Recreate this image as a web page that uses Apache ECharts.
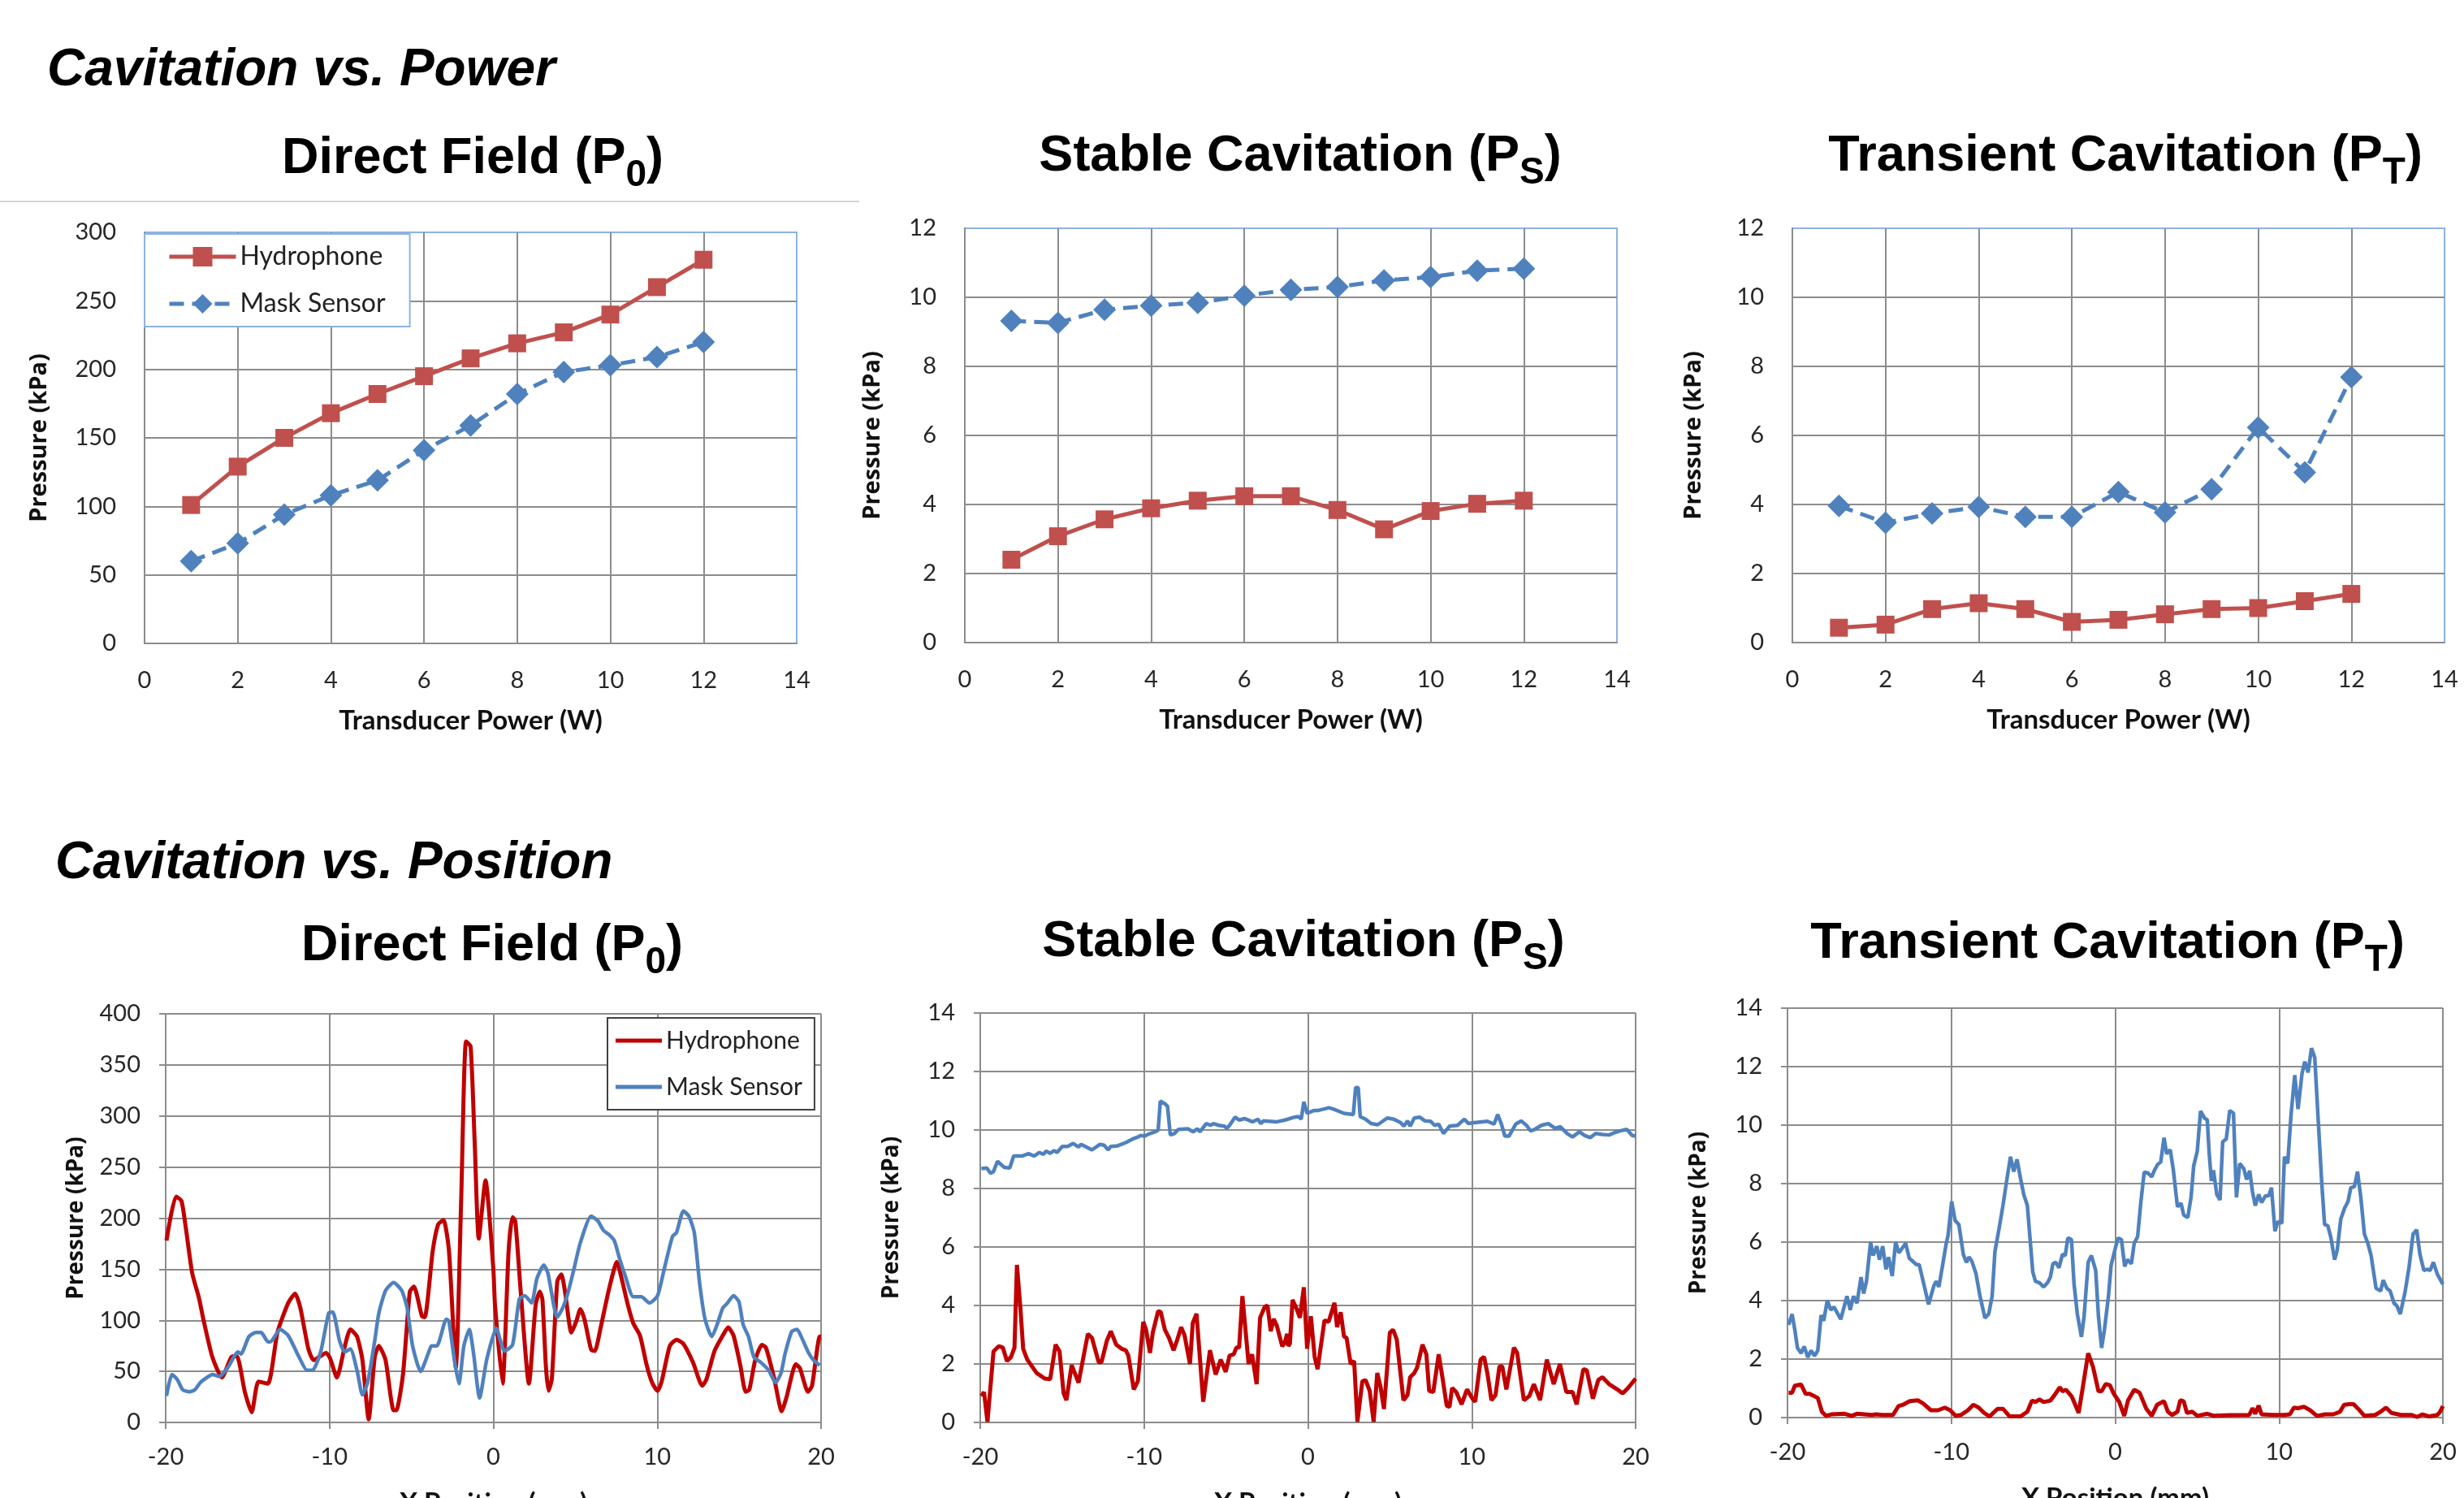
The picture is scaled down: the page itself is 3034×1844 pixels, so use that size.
<!DOCTYPE html>
<html lang="en">
<head>
<meta charset="UTF-8">
<title>Cavitation vs. Power / Position</title>
<script src="https://cdn.jsdelivr.net/npm/echarts@6/dist/echarts.min.js"></script>
<style>
  html, body { margin: 0; padding: 0; background: #fff; }
  #main { width: 3034px; height: 1844px; }
</style>
</head>
<body>
<div id="main"></div>
<script>
// ---- top row: pressure vs transducer power (W) ----
var powerW  = [1, 2, 3, 4, 5, 6, 7, 8, 9, 10, 11, 12];
var p0Hydro = [101, 129, 150, 168, 182, 195, 208, 219, 227, 240, 260, 280];
var p0Mask  = [60, 73, 94, 108, 119, 141, 159, 182, 198, 203, 209, 220];
var psHydro = [2.40, 3.08, 3.57, 3.89, 4.11, 4.24, 4.24, 3.84, 3.28, 3.81, 4.02, 4.11];
var psMask  = [9.32, 9.26, 9.64, 9.76, 9.84, 10.05, 10.22, 10.30, 10.49, 10.59, 10.77, 10.83];
var ptHydro = [0.43, 0.52, 0.97, 1.14, 0.97, 0.60, 0.66, 0.82, 0.97, 1.00, 1.20, 1.41];
var ptMask  = [3.96, 3.47, 3.74, 3.93, 3.64, 3.64, 4.36, 3.77, 4.44, 6.23, 4.93, 7.69];

// ---- bottom row: pressure vs x position (mm), [x, kPa] ----
var posP0Hydro = [[-19.95,178],[-19.37,221],[-19.04,217],[-18.8,194],[-18.38,146],[-17.97,122],[-17.7,101],[-17.15,64],[-16.57,44],[-15.99,64],[-15.66,65],[-15.17,30],[-14.75,10],[-14.34,40],[-13.76,38],[-13.18,88],[-12.52,117],[-12.1,126],[-11.78,112],[-11.29,72],[-10.96,61],[-10.21,68],[-9.97,63],[-9.55,44],[-9.06,75],[-8.73,91],[-8.32,84],[-7.99,61],[-7.61,3],[-7.24,64],[-6.99,75],[-6.58,61],[-6.09,12],[-5.92,12],[-5.51,48],[-5.1,128],[-4.85,133],[-4.36,104],[-4.19,103],[-3.7,168],[-3.37,194],[-3.04,198],[-2.71,168],[-2.29,54],[-1.96,221],[-1.67,373],[-1.39,368],[-1.14,274],[-0.89,180],[-0.48,237],[0.0,150],[0.1,115],[0.56,38],[0.93,168],[1.17,201],[1.34,197],[1.67,128],[2.17,38],[2.58,115],[2.83,128],[2.99,121],[3.21,54],[3.37,31],[3.57,43],[3.9,138],[4.15,145],[4.4,125],[4.76,88],[5.06,99],[5.31,111],[5.56,101],[5.97,71],[6.19,70],[6.55,93],[7.05,130],[7.54,157],[7.87,138],[8.21,115],[8.54,97],[8.95,85],[9.36,56],[9.69,39],[10.02,31],[10.27,40],[10.77,75],[11.18,81],[11.6,77],[12.18,59],[12.75,36],[13.0,42],[13.5,70],[14.0,85],[14.33,93],[14.66,85],[15.07,56],[15.4,30],[15.62,32],[15.98,61],[16.39,76],[16.64,73],[17.14,43],[17.6,11],[17.88,24],[18.46,57],[18.71,53],[19.2,30],[19.45,36],[19.92,84],[20.0,84]];
var posP0Mask = [[-19.95,26],[-19.62,47],[-19.29,42],[-18.96,32],[-18.55,30],[-18.22,32],[-17.89,39],[-17.48,44],[-17.15,47],[-16.73,45],[-16.24,53],[-15.58,69],[-15.41,67],[-14.92,84],[-14.5,88],[-14.17,88],[-13.76,79],[-13.6,79],[-13.02,91],[-12.52,85],[-11.86,64],[-11.37,51],[-11.04,51],[-10.54,69],[-10.05,107],[-9.8,108],[-9.39,80],[-9.06,69],[-8.73,72],[-8.32,51],[-7.99,27],[-7.66,40],[-7.24,80],[-6.99,107],[-6.58,129],[-6.09,137],[-5.59,129],[-5.26,112],[-4.93,75],[-4.44,50],[-3.94,69],[-3.78,75],[-3.45,75],[-2.87,101],[-2.71,99],[-2.38,61],[-2.1,38],[-1.8,75],[-1.47,91],[-1.22,69],[-0.84,24],[-0.4,62],[0.18,92],[0.68,70],[1.17,76],[1.59,121],[1.92,124],[2.33,117],[2.66,141],[3.08,154],[3.33,146],[3.9,103],[4.23,112],[4.57,128],[4.9,149],[5.31,176],[5.97,202],[6.39,197],[6.72,188],[7.05,184],[7.38,178],[7.71,160],[8.04,144],[8.54,123],[9.03,123],[9.53,117],[10.02,124],[10.44,151],[10.93,182],[11.18,186],[11.6,207],[11.93,202],[12.26,186],[12.59,136],[12.92,101],[13.33,84],[13.66,96],[14.0,112],[14.24,116],[14.66,124],[14.99,118],[15.24,96],[15.57,84],[15.9,64],[16.31,59],[16.81,51],[17.22,39],[17.55,48],[17.8,67],[18.21,89],[18.54,91],[18.79,84],[19.21,69],[19.54,61],[19.92,56]];
var posPsHydro = [[-19.93,0.9],[-19.77,1.04],[-19.56,0.02],[-19.19,2.43],[-18.86,2.61],[-18.62,2.56],[-18.37,2.1],[-18.12,2.24],[-17.91,2.56],[-17.76,5.39],[-17.55,3.91],[-17.38,2.52],[-17.13,2.15],[-16.56,1.69],[-16.06,1.5],[-15.73,1.48],[-15.4,2.66],[-15.16,2.43],[-14.91,0.99],[-14.74,0.76],[-14.42,1.96],[-14.0,1.36],[-13.67,2.33],[-13.43,3.03],[-13.18,2.89],[-12.77,2.06],[-12.6,2.06],[-12.27,2.8],[-12.03,3.12],[-11.7,2.66],[-11.37,2.52],[-11.12,2.47],[-10.96,2.29],[-10.63,1.13],[-10.38,1.41],[-10.05,3.44],[-9.88,3.17],[-9.64,2.38],[-9.47,3.07],[-9.14,3.81],[-8.98,3.77],[-8.73,3.17],[-8.48,2.89],[-8.2,2.47],[-7.99,2.8],[-7.74,3.26],[-7.53,2.98],[-7.2,2.0],[-7.03,3.4],[-6.8,3.72],[-6.39,0.71],[-5.98,2.47],[-5.63,1.64],[-5.32,2.15],[-5.02,1.73],[-4.78,2.29],[-4.53,2.33],[-4.37,2.56],[-4.2,2.56],[-4.0,4.32],[-3.62,2.0],[-3.41,2.33],[-3.13,1.31],[-2.92,3.58],[-2.64,3.95],[-2.47,4.0],[-2.27,3.12],[-2.09,3.54],[-1.9,3.31],[-1.57,2.61],[-1.43,2.7],[-1.27,3.03],[-1.19,2.61],[-1.1,2.7],[-0.94,4.19],[-0.71,3.91],[-0.49,3.58],[-0.25,4.62],[-0.05,2.52],[0.18,3.63],[0.41,2.24],[0.59,1.82],[1.01,3.49],[1.26,3.44],[1.62,4.09],[1.78,3.26],[2.0,3.77],[2.2,2.94],[2.36,2.89],[2.61,2.0],[2.82,2.1],[3.02,0.02],[3.32,1.41],[3.52,1.45],[3.77,1.08],[4.01,0.02],[4.23,1.69],[4.43,1.22],[4.64,0.46],[5.0,3.07],[5.2,3.17],[5.42,2.84],[5.83,0.76],[6.08,0.94],[6.24,1.55],[6.49,1.69],[6.66,1.87],[6.99,2.66],[7.23,2.33],[7.4,1.08],[7.65,1.04],[7.98,2.33],[8.22,1.5],[8.47,0.57],[8.64,0.53],[8.8,1.18],[9.05,1.04],[9.38,0.62],[9.71,1.13],[10.04,0.81],[10.21,0.71],[10.54,2.15],[10.75,2.24],[10.95,1.69],[11.2,0.76],[11.45,0.94],[11.69,1.92],[11.86,1.92],[12.11,1.13],[12.57,2.56],[12.77,2.38],[13.18,0.76],[13.51,0.9],[13.79,1.31],[14.17,0.76],[14.58,2.15],[15.0,1.31],[15.38,2.0],[15.77,1.04],[16.15,1.04],[16.4,0.62],[16.81,1.82],[17.02,1.78],[17.39,0.81],[17.72,1.45],[17.97,1.55],[18.38,1.31],[18.88,1.13],[19.21,0.99],[19.54,1.18],[20.0,1.5]];
var posPsMask = [[-19.93,8.68],[-19.6,8.7],[-19.36,8.52],[-19.19,8.58],[-18.95,8.93],[-18.53,8.72],[-18.2,8.7],[-17.96,9.11],[-17.46,9.11],[-17.05,9.19],[-16.72,9.11],[-16.39,9.23],[-16.14,9.17],[-15.98,9.28],[-15.73,9.2],[-15.49,9.3],[-15.32,9.23],[-14.99,9.44],[-14.66,9.44],[-14.33,9.54],[-14.0,9.42],[-13.84,9.51],[-13.18,9.32],[-12.69,9.51],[-12.44,9.48],[-12.19,9.32],[-12.03,9.44],[-11.61,9.46],[-11.12,9.57],[-10.71,9.69],[-10.38,9.76],[-10.21,9.81],[-9.97,9.79],[-9.64,9.88],[-9.31,9.94],[-9.14,10.0],[-9.01,10.99],[-8.73,10.9],[-8.57,10.81],[-8.4,9.83],[-8.15,9.88],[-7.91,10.02],[-7.33,10.04],[-7.0,9.94],[-6.75,10.04],[-6.59,9.94],[-6.21,10.22],[-5.93,10.16],[-5.77,10.22],[-5.44,10.16],[-5.11,10.13],[-4.94,10.06],[-4.78,10.16],[-4.45,10.44],[-4.2,10.34],[-3.87,10.39],[-3.38,10.28],[-3.05,10.37],[-2.88,10.22],[-2.72,10.31],[-1.9,10.28],[-1.4,10.34],[-0.82,10.44],[-0.58,10.46],[-0.41,10.37],[-0.25,10.96],[-0.05,10.57],[0.38,10.67],[0.63,10.67],[1.29,10.76],[1.54,10.72],[2.2,10.57],[2.77,10.53],[2.91,11.45],[3.07,11.45],[3.19,10.46],[3.52,10.37],[3.85,10.22],[4.26,10.18],[4.84,10.41],[5.25,10.37],[5.66,10.25],[5.86,10.13],[6.08,10.31],[6.24,10.13],[6.49,10.41],[6.82,10.44],[7.15,10.31],[7.48,10.3],[7.73,10.16],[7.98,10.2],[8.27,9.88],[8.64,10.13],[9.13,10.16],[9.55,10.37],[9.79,10.22],[10.12,10.25],[10.62,10.28],[10.95,10.3],[11.36,10.2],[11.58,10.53],[11.81,10.2],[12.02,9.79],[12.27,9.79],[12.68,10.2],[13.01,10.31],[13.34,10.16],[13.59,9.97],[13.84,10.02],[14.25,10.16],[14.67,10.22],[15.08,10.06],[15.41,10.11],[15.82,9.88],[16.15,9.76],[16.56,9.94],[16.9,9.81],[17.23,9.74],[17.56,9.88],[17.97,9.85],[18.38,9.83],[18.71,9.91],[19.04,9.97],[19.46,10.02],[19.79,9.81],[20.0,9.79]];
var posPtHydro = [[-19.93,0.85],[-19.72,0.85],[-19.55,1.09],[-19.17,1.13],[-18.89,0.81],[-18.65,0.81],[-18.15,0.67],[-17.9,0.2],[-17.66,0.06],[-17.33,0.11],[-16.5,0.13],[-16.09,0.06],[-15.76,0.13],[-14.85,0.09],[-14.6,0.11],[-14.19,0.09],[-13.56,0.09],[-13.23,0.39],[-12.95,0.44],[-12.54,0.56],[-12.05,0.59],[-11.72,0.48],[-11.25,0.25],[-10.81,0.25],[-10.4,0.34],[-10.07,0.25],[-9.74,0.06],[-9.41,0.09],[-8.99,0.25],[-8.66,0.44],[-8.33,0.34],[-8.0,0.16],[-7.67,0.04],[-7.18,0.3],[-6.85,0.3],[-6.44,0.04],[-5.78,0.04],[-5.36,0.2],[-5.08,0.58],[-4.87,0.53],[-4.62,0.62],[-4.37,0.53],[-3.96,0.58],[-3.71,0.76],[-3.38,1.04],[-3.22,0.9],[-3.0,0.95],[-2.64,0.71],[-2.23,0.16],[-1.95,1.13],[-1.65,2.2],[-1.35,1.73],[-1.02,0.9],[-0.83,0.9],[-0.58,1.15],[-0.33,1.11],[-0.08,0.81],[0.25,0.53],[0.55,0.06],[0.78,0.58],[1.16,0.95],[1.49,0.85],[1.9,0.3],[2.23,0.06],[2.56,0.44],[2.98,0.56],[3.22,0.2],[3.47,0.09],[3.8,0.2],[3.97,0.59],[4.18,0.56],[4.38,0.16],[4.71,0.2],[5.01,0.06],[5.62,0.13],[6.03,0.06],[7.0,0.08],[8.18,0.09],[8.38,0.32],[8.55,0.13],[8.76,0.41],[8.93,0.11],[9.67,0.09],[10.33,0.09],[10.66,0.11],[10.91,0.34],[11.16,0.32],[11.52,0.37],[11.9,0.25],[12.31,0.06],[12.81,0.11],[13.31,0.11],[13.72,0.2],[13.97,0.44],[14.3,0.46],[14.55,0.46],[14.83,0.3],[15.21,0.06],[15.87,0.09],[16.2,0.2],[16.53,0.34],[16.86,0.16],[17.44,0.09],[18.1,0.09],[18.43,0.02],[18.76,0.11],[19.17,0.04],[19.67,0.09],[19.83,0.2],[20.0,0.39]];
var posPtMask = [[-19.93,3.17],[-19.72,3.54],[-19.55,2.99],[-19.39,2.38],[-19.17,2.2],[-18.98,2.43],[-18.76,2.06],[-18.56,2.29],[-18.35,2.11],[-18.15,2.29],[-17.95,3.5],[-17.79,3.31],[-17.57,4.01],[-17.36,3.68],[-17.16,3.78],[-16.75,3.36],[-16.37,4.15],[-16.17,3.68],[-15.97,4.15],[-15.76,3.91],[-15.51,4.8],[-15.35,4.24],[-15.18,4.66],[-14.93,6.0],[-14.77,5.54],[-14.55,5.86],[-14.39,5.4],[-14.19,5.86],[-13.99,5.07],[-13.83,5.49],[-13.61,4.84],[-13.4,6.0],[-13.2,5.63],[-12.79,5.96],[-12.57,5.45],[-12.13,5.23],[-11.96,5.23],[-11.72,4.66],[-11.39,3.87],[-11.06,4.52],[-10.92,4.66],[-10.76,4.47],[-10.56,5.12],[-10.31,5.96],[-10.2,6.23],[-9.98,7.39],[-9.77,6.74],[-9.54,6.6],[-9.27,5.58],[-9.08,5.31],[-8.91,5.49],[-8.75,5.35],[-8.5,4.93],[-8.25,4.15],[-7.95,3.4],[-7.72,3.54],[-7.51,4.15],[-7.34,5.68],[-7.1,6.42],[-6.85,7.25],[-6.6,8.18],[-6.39,8.92],[-6.19,8.41],[-5.99,8.83],[-5.78,8.18],[-5.58,7.63],[-5.36,7.25],[-5.2,6.14],[-5.03,4.98],[-4.87,4.66],[-4.62,4.61],[-4.37,4.47],[-4.13,4.61],[-3.96,4.8],[-3.8,5.26],[-3.63,5.31],[-3.43,5.12],[-3.22,5.58],[-3.05,5.54],[-2.89,6.14],[-2.67,6.09],[-2.51,4.56],[-2.31,3.54],[-2.06,2.76],[-1.9,3.45],[-1.65,5.31],[-1.45,5.54],[-1.19,5.03],[-1.02,3.45],[-0.83,2.38],[-0.66,2.99],[-0.41,4.15],[-0.25,5.21],[0.0,5.77],[0.17,6.14],[0.38,6.09],[0.58,5.17],[0.74,5.4],[0.99,5.26],[1.16,5.96],[1.37,6.19],[1.57,7.39],[1.77,8.39],[1.98,8.37],[2.23,8.23],[2.4,8.46],[2.6,8.66],[2.78,8.74],[2.98,9.57],[3.14,9.02],[3.36,9.16],[3.55,8.46],[3.8,7.21],[4.02,7.33],[4.18,6.93],[4.43,6.84],[4.63,7.53],[4.79,8.6],[5.01,9.11],[5.21,10.48],[5.45,10.24],[5.62,10.18],[5.74,9.02],[5.87,8.09],[6.0,8.46],[6.2,7.63],[6.4,7.44],[6.56,9.43],[6.78,9.53],[6.99,10.5],[7.22,10.41],[7.4,7.53],[7.6,8.69],[7.85,8.51],[8.02,8.14],[8.21,8.44],[8.38,7.72],[8.55,7.25],[8.76,7.63],[8.93,7.35],[9.17,7.58],[9.37,7.58],[9.54,7.86],[9.75,6.37],[9.92,6.7],[10.17,6.65],[10.33,8.92],[10.53,8.69],[10.74,10.41],[10.96,11.71],[11.16,10.55],[11.4,11.76],[11.57,12.17],[11.77,11.8],[11.98,12.63],[12.18,12.31],[12.4,10.08],[12.61,8.0],[12.78,6.6],[12.98,6.56],[13.17,6.14],[13.39,5.4],[13.55,5.72],[13.77,6.79],[14.0,7.16],[14.21,7.39],[14.38,7.86],[14.6,7.9],[14.79,8.41],[14.99,7.53],[15.21,6.28],[15.42,5.96],[15.62,5.54],[15.92,4.42],[16.2,4.33],[16.36,4.7],[16.58,4.42],[16.78,4.33],[17.02,3.91],[17.19,3.82],[17.4,3.54],[17.69,4.29],[17.93,5.12],[18.18,6.28],[18.4,6.42],[18.6,5.58],[18.84,5.03],[19.06,5.07],[19.22,5.03],[19.42,5.31],[19.67,4.89],[20.0,4.56]];

var RED_TOP = '#c0504d', RED_BOT = '#c00000', BLUE = '#4f81bd';
var GRAY = '#8c8c8c';
var LABEL_FONT = 'Lato';

function pairs(xs, ys) {
    return xs.map(function (x, i) { return [x, ys[i]]; });
}

var myChart = echarts.init(document.getElementById('main'));

var grids = [
    {left: 178,  top: 286,  width: 803, height: 506, show: true, borderColor: '#8db3e2', borderWidth: 2},
    {left: 1188, top: 281,  width: 803, height: 510, show: true, borderColor: '#8db3e2', borderWidth: 2},
    {left: 2207, top: 281,  width: 803, height: 510, show: true, borderColor: '#8db3e2', borderWidth: 2},
    {left: 204,  top: 1248, width: 807, height: 503},
    {left: 1207, top: 1247, width: 807, height: 504},
    {left: 2201, top: 1241, width: 807, height: 504}
];
grids.forEach(function (g) { g.outerBoundsMode = 'none'; g.containLabel = false; });

function tickLabel(margin) {
    return {fontFamily: LABEL_FONT, fontSize: 29, color: '#262626', margin: margin};
}
var gridLine = {color: GRAY, width: 2};

function xAxis(i, top) {
    return {
        type: 'value', gridIndex: i,
        min: top ? 0 : -20, max: top ? 14 : 20, interval: top ? 2 : 10,
        name: top ? 'Transducer Power (W)' : 'X Position (mm)',
        nameLocation: 'middle', nameGap: top ? 79 : 83,
        nameTextStyle: {fontFamily: LABEL_FONT, fontWeight: 'bold', fontSize: 33, color: '#111'},
        axisLine: {show: true, onZero: false, lineStyle: gridLine},
        axisTick: {show: !top, length: 8, lineStyle: gridLine},
        axisLabel: tickLabel(top ? 31 : 28),
        splitLine: {show: true, showMaxLine: !top, lineStyle: gridLine}
    };
}
function yAxis(i, max, interval, gap, top) {
    return {
        type: 'value', gridIndex: i, min: 0, max: max, interval: interval,
        name: 'Pressure (kPa)', nameLocation: 'middle', nameGap: gap, nameRotate: 90,
        nameTextStyle: {fontFamily: 'Open Sans', fontWeight: 'bold', fontSize: top ? 29 : 28, color: '#111'},
        axisLine: {show: true, onZero: false, lineStyle: gridLine},
        axisTick: {show: !top, length: 8, lineStyle: gridLine},
        axisLabel: tickLabel(top ? 35 : 31),
        splitLine: {show: true, showMaxLine: !top, lineStyle: gridLine}
    };
}

function powerSeries(i, name, data, isHydro) {
    var c = isHydro ? RED_TOP : BLUE;
    return {
        type: 'line', name: name, xAxisIndex: i, yAxisIndex: i,
        data: pairs(powerW, data),
        symbol: isHydro ? 'rect' : 'diamond', symbolSize: isHydro ? 22 : 28,
        itemStyle: {color: c},
        lineStyle: {color: c, width: 5, type: isHydro ? 'solid' : [18, 10]},
        emphasis: {disabled: true}, z: isHydro ? 3 : 2
    };
}
function posSeries(i, name, data, isHydro, smooth) {
    var c = isHydro ? RED_BOT : BLUE;
    return {
        type: 'line', name: name, xAxisIndex: i, yAxisIndex: i,
        data: data, showSymbol: false, symbol: 'none', smooth: smooth,
        itemStyle: {color: c},
        lineStyle: {color: c, width: isHydro ? 5 : 4.5},
        emphasis: {disabled: true}
    };
}

var headFont = {fontFamily: 'Liberation Sans', fontWeight: 'bold', fontStyle: 'italic', fontSize: 64, color: '#000'};
var panelFont = {
    fontFamily: 'Liberation Sans', fontWeight: 'bold', fontSize: 63, color: '#000',
    rich: {s: {fontFamily: 'Liberation Sans', fontWeight: 'bold', fontSize: 46, color: '#000', padding: [40, 0, 0, 0]}}
};
function panelTitle(text, cx, capY) {
    return {text: text, left: cx, top: capY - 43, textAlign: 'center', padding: 0, textStyle: panelFont};
}

var option = {
    animation: false,
    backgroundColor: '#fff',
    title: [
        {text: 'Cavitation vs. Power', left: 58, top: 55, padding: 0, textStyle: headFont},
        {text: 'Cavitation vs. Position', left: 68, top: 1031, padding: 0, textStyle: headFont},
        panelTitle('Direct Field (P{s|0})', 582, 196),
        panelTitle('Stable Cavitation (P{s|S})', 1601, 193),
        panelTitle('Transient Cavitation (P{s|T})', 2617, 193),
        panelTitle('Direct Field (P{s|0})', 606, 1165),
        panelTitle('Stable Cavitation (P{s|S})', 1605, 1160),
        panelTitle('Transient Cavitation (P{s|T})', 2595, 1162)
    ],
    graphic: [
        {type: 'line', shape: {x1: 0, y1: 248, x2: 1058, y2: 248}, style: {stroke: '#d4d4d4', lineWidth: 2}}
    ],
    legend: [
        {
            left: 178, top: 288, orient: 'vertical', selectedMode: false,
            padding: [10, 30, 10, 28], itemGap: 22, itemWidth: 82, itemHeight: 30,
            backgroundColor: '#fff', borderColor: '#8db3e2', borderWidth: 2,
            lineStyle: {width: 5},
            textStyle: {fontFamily: LABEL_FONT, fontSize: 32, color: '#222', lineHeight: 36},
            data: ['Hydrophone', 'Mask Sensor']
        },
        {
            left: 748, top: 1253, orient: 'vertical', selectedMode: false,
            padding: [10, 15, 10, 10], itemGap: 21, itemWidth: 57, itemHeight: 5, icon: 'rect',
            backgroundColor: '#fff', borderColor: '#404040', borderWidth: 2,
            textStyle: {fontFamily: LABEL_FONT, fontSize: 30, color: '#222', lineHeight: 36},
            data: [
                {name: 'Hydrophone', itemStyle: {color: RED_BOT, borderWidth: 0}},
                {name: 'Mask Sensor', itemStyle: {color: BLUE, borderWidth: 0}}
            ]
        }
    ],
    grid: grids,
    xAxis: [xAxis(0, true), xAxis(1, true), xAxis(2, true), xAxis(3, false), xAxis(4, false), xAxis(5, false)],
    yAxis: [
        yAxis(0, 300, 50, 115, true),
        yAxis(1, 12, 2, 99, true),
        yAxis(2, 12, 2, 107, true),
        yAxis(3, 400, 50, 96, false),
        yAxis(4, 14, 2, 95, false),
        yAxis(5, 14, 2, 95, false)
    ],
    series: [
        powerSeries(0, 'Hydrophone', p0Hydro, true),
        powerSeries(0, 'Mask Sensor', p0Mask, false),
        powerSeries(1, 'Hydrophone', psHydro, true),
        powerSeries(1, 'Mask Sensor', psMask, false),
        powerSeries(2, 'Hydrophone', ptHydro, true),
        powerSeries(2, 'Mask Sensor', ptMask, false),
        posSeries(3, 'Hydrophone', posP0Hydro, true, 0.2),
        posSeries(3, 'Mask Sensor', posP0Mask, false, 0.2),
        posSeries(4, 'Hydrophone', posPsHydro, true, false),
        posSeries(4, 'Mask Sensor', posPsMask, false, false),
        posSeries(5, 'Hydrophone', posPtHydro, true, false),
        posSeries(5, 'Mask Sensor', posPtMask, false, false)
    ]
};
myChart.setOption(option);
</script>
</body>
</html>
